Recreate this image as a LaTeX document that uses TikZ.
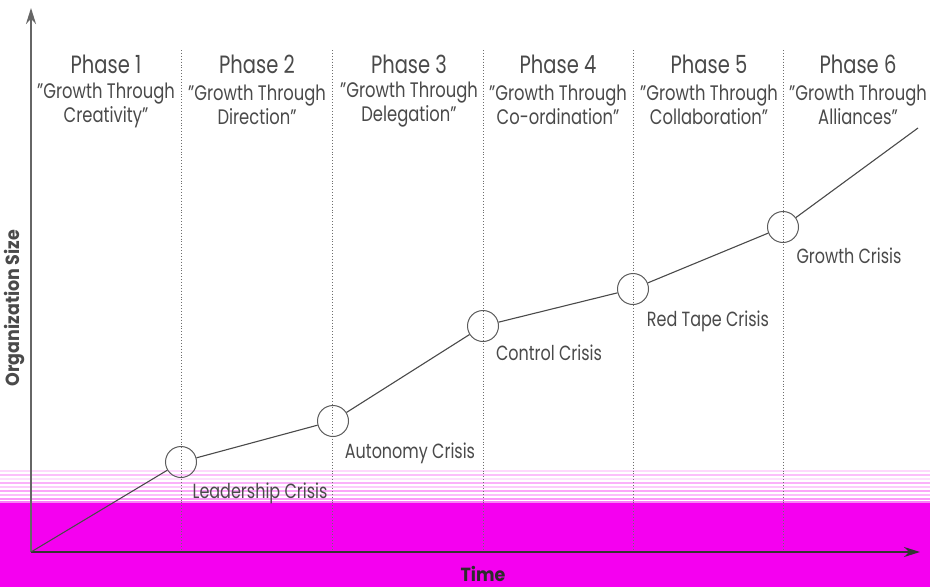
\documentclass[tikz,border=0pt]{standalone}
\usepackage{fontspec}
\setmainfont{Poppins}[FakeStretch=0.78]
\newfontfamily\axisfont{Poppins}[FakeStretch=0.92]
\usetikzlibrary{arrows.meta}
\definecolor{ink}{HTML}{4A4A4A}
\definecolor{band}{HTML}{F500F0}
\tikzset{
  phasetitle/.style={text=ink, font=\fontsize{25}{25}\selectfont, inner sep=0pt},
  phasedesc/.style={text=ink, font=\fontsize{21}{24}\selectfont, align=center, inner sep=0pt},
  crisislabel/.style={text=ink, font=\fontsize{20.5}{20.5}\selectfont, inner sep=0pt},
  crisis/.style={circle, draw=ink!90, line width=1pt, minimum size=31pt, inner sep=0pt},
  divider/.style={draw=ink!80, line width=0.9pt, dotted},
  axisline/.style={draw=gray!80!black, line width=2pt, -{Stealth[length=16pt,width=10pt]}},
  growth/.style={draw=ink, line width=1.1pt}
}
\begin{document}
\begin{tikzpicture}[x=1pt,y=-1pt]
\useasboundingbox (0,0) rectangle (930,587);
\fill[white] (0,0) rectangle (930,587);
% colour band along the bottom and its faint streaks
\foreach \yy/\op in {470/0.15,474/0.25,478/0.12,482/0.3,486/0.2,490/0.35,494/0.25,498/0.4,501/0.5}
  \fill[band, opacity=\op] (0,\yy) rectangle (930,\yy+1.6);
\fill[band] (0,503) rectangle (930,587);

% phase dividers
\foreach \xx in {181,332,483,633,783}
  \draw[divider] (\xx,50) -- (\xx,552);

% axes
\coordinate (o) at (31,552);
\coordinate (ytop) at (31,8);
\coordinate (xend) at (920,552);
\draw[axisline] (o) -- (ytop);
\draw[axisline, draw=ink!70!black] (o) -- (xend);
\node[rotate=90, text=ink, font=\axisfont\bfseries\fontsize{19}{19}\selectfont] (ylab) at (15,308) {Organization Size};
\node[text=ink!60!black, font=\axisfont\bfseries\fontsize{19}{19}\selectfont] (xlab) at (483,574) {Time};

% phase headings
\foreach \n/\xx/\txt in {1/106/Creativity,2/257/Direction,3/409/Delegation,4/558/Co-ordination,5/709/Collaboration,6/858/Alliances}{
  \node[phasetitle] (ph\n) at (\xx,64) {Phase \n};
  \node[phasedesc] (pd\n) at (\xx,105) {"Growth Through\\\txt"};
}

% crises along the growth path
\node[crisis] (c1) at (181,462) {};
\node[crisis] (c2) at (333,421) {};
\node[crisis] (c3) at (483,326) {};
\node[crisis] (c4) at (633,289) {};
\node[crisis] (c5) at (783,227) {};
\coordinate (gend) at (918,128);
\draw[growth] (o) -- (c1) -- (c2) -- (c3) -- (c4) -- (c5) -- (gend);

\node[crisislabel] (l1) at (260,493) {Leadership Crisis};
\node[crisislabel] (l2) at (410,453) {Autonomy Crisis};
\node[crisislabel] (l3) at (549,353) {Control Crisis};
\node[crisislabel] (l4) at (708,321) {Red Tape Crisis};
\node[crisislabel] (l5) at (849,256) {Growth Crisis};
\end{tikzpicture}
\end{document}
